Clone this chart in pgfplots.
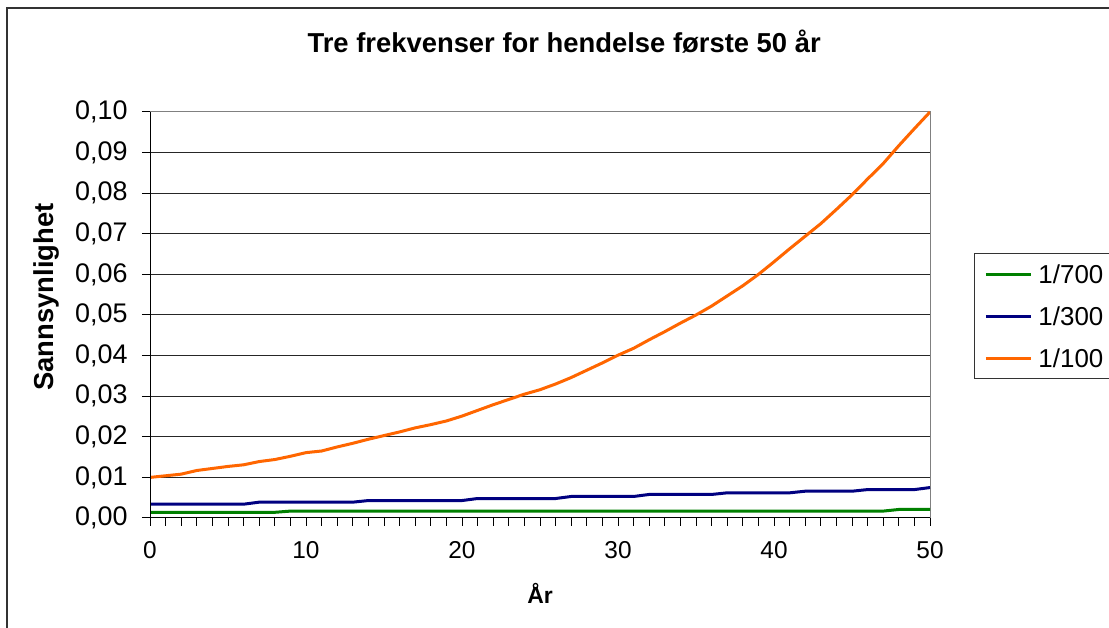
\documentclass[border=0pt]{standalone}
\usepackage{pgfplots}
\pgfplotsset{compat=1.18}
\usepackage{pgfplotstable}
\usepackage{graphicx}
\usepackage{fontspec}
\setmainfont{Liberation Sans}

\definecolor{cgreen}{HTML}{008000}
\definecolor{cblue}{HTML}{000080}
\definecolor{corange}{HTML}{FF6600}

\pgfplotstableread{
x g b o
0 0.0014 0.0034 0.0100
1 0.0014 0.0034 0.0104
2 0.0014 0.0034 0.0108
3 0.0014 0.0034 0.0117
4 0.0014 0.0034 0.0122
5 0.0014 0.0034 0.0127
6 0.0014 0.0034 0.0131
7 0.0014 0.0039 0.0139
8 0.0014 0.0039 0.0144
9 0.0017 0.0039 0.0152
10 0.0017 0.0039 0.0161
11 0.0017 0.0039 0.0165
12 0.0017 0.0039 0.0175
13 0.0017 0.0039 0.0184
14 0.0017 0.0043 0.0194
15 0.0017 0.0043 0.0203
16 0.0017 0.0043 0.0212
17 0.0017 0.0043 0.0222
18 0.0017 0.0043 0.0230
19 0.0017 0.0043 0.0239
20 0.0017 0.0043 0.0251
21 0.0017 0.0048 0.0265
22 0.0017 0.0048 0.0279
23 0.0017 0.0048 0.0292
24 0.0017 0.0048 0.0305
25 0.0017 0.0048 0.0316
26 0.0017 0.0048 0.0330
27 0.0017 0.0053 0.0346
28 0.0017 0.0053 0.0364
29 0.0017 0.0053 0.0382
30 0.0017 0.0053 0.0401
31 0.0017 0.0053 0.0418
32 0.0017 0.0058 0.0439
33 0.0017 0.0058 0.0459
34 0.0017 0.0058 0.0480
35 0.0017 0.0058 0.0500
36 0.0017 0.0058 0.0522
37 0.0017 0.0062 0.0547
38 0.0017 0.0062 0.0572
39 0.0017 0.0062 0.0600
40 0.0017 0.0062 0.0631
41 0.0017 0.0062 0.0663
42 0.0017 0.0066 0.0694
43 0.0017 0.0066 0.0725
44 0.0017 0.0066 0.0760
45 0.0017 0.0066 0.0796
46 0.0017 0.0070 0.0835
47 0.0017 0.0070 0.0873
48 0.0021 0.0070 0.0917
49 0.0021 0.0070 0.0959
50 0.0021 0.0075 0.1000
}\data

\begin{document}
\begin{tikzpicture}
\path[use as bounding box] (0bp,0bp) rectangle (1109bp,628bp);
\fill[white] (0bp,0bp) rectangle (1109bp,628bp);
\draw[line width=1.5bp, black!80] (7bp,620bp) rectangle (1140bp,-30bp);
\begin{axis}[
  at={(150bp,110bp)}, anchor=south west,
  width=780bp, height=406bp, scale only axis,
  xmin=0, xmax=50, ymin=0, ymax=0.1,
  xtick={0,10,20,30,40,50}, minor x tick num=9,
  ytick={0,0.01,0.02,0.03,0.04,0.05,0.06,0.07,0.08,0.09,0.1},
  scaled y ticks=false,
  tick pos=left, tick align=outside,
  major tick length=8bp, minor tick length=8bp,
  every tick/.style={black, line width=1bp},
  minor tick style={black, line width=1bp},
  axis line style={draw=gray, line width=1bp},
  ymajorgrids, grid style={black!85, line width=1bp},
  /pgf/number format/assume math mode=true,
  xticklabel style={font=\fontsize{24.5}{29}\selectfont, yshift=-12bp},
  yticklabel style={font=\fontsize{27}{32}\selectfont, xshift=-11bp},
  yticklabel={\pgfmathprintnumber[fixed,fixed zerofill,precision=2,use comma]{\tick}},
  title={Tre frekvenser for hendelse første 50 år},
  title style={at={(axis description cs:0.531,1.158)}, anchor=center, font=\bfseries\fontsize{27.5}{32}\selectfont},
  xlabel={År},
  xlabel style={at={(axis description cs:0.5,-0.1847)}, anchor=center, font=\bfseries\fontsize{23}{27}\selectfont},
  ylabel={Sannsynlighet},
  ylabel style={at={(axis description cs:-0.1333,0.544)}, anchor=center, font=\bfseries\fontsize{27.5}{32}\selectfont},
  legend style={at={(axis description cs:1.0564,0.6527)}, anchor=north west,
    draw=black!80, line width=1bp, inner xsep=10bp, inner ysep=10.75bp,
    row sep=22.5bp, column sep=6bp, font=\fontsize{26}{31}\selectfont,
    nodes={inner sep=0pt, text height=19.5bp, text depth=0pt, anchor=west}},
  legend cell align=left,
  legend image code/.code={\draw[#1] (0bp,0bp) -- (45bp,0bp);},
]
\addplot[cgreen, line width=3bp] table[x=x,y=g] {\data};
\addlegendentry{1/700\hspace*{40bp}}
\addplot[cblue, line width=3bp] table[x=x,y=b] {\data};
\addlegendentry{1/300\hspace*{40bp}}
\addplot[corange, line width=3bp] table[x=x,y=o] {\data};
\addlegendentry{1/100\hspace*{40bp}}
\draw[black, line width=1.2bp] (rel axis cs:0,1) -- (rel axis cs:0,0) -- (rel axis cs:1,0);
\end{axis}
\end{tikzpicture}
\end{document}
